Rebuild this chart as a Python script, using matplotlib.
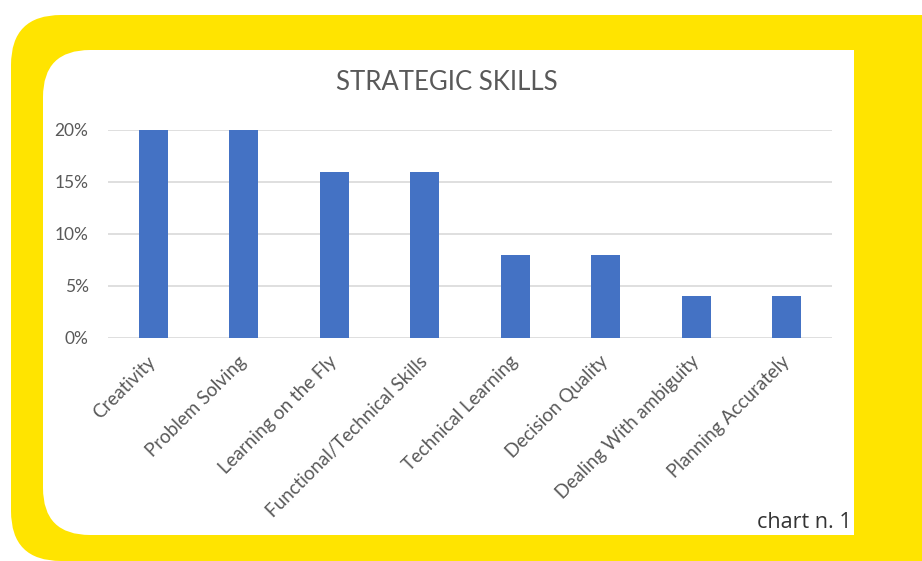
import numpy as np
import matplotlib
matplotlib.use("Agg")
from matplotlib import pyplot as plt
from matplotlib.patches import FancyBboxPatch, Rectangle

skills = ["Creativity", "Problem Solving", "Learning on the Fly",
          "Functional/Technical Skills", "Technical Learning",
          "Decision Quality", "Dealing With ambiguity", "Planning Accurately"]
shares = [20, 20, 16, 16, 8, 8, 4, 4]
y_ticks = [0, 5, 10, 15, 20]
y_labels = ["0%", "5%", "10%", "15%", "20%"]

W, H = 922, 561
YELLOW = "#FFE400"
GREY = "#595959"

fig = plt.figure(figsize=(W / 100, H / 100), dpi=100)
fig.patch.set_facecolor("white")
tr = fig.dpi_scale_trans


def box(x0, y0, x1, y1):
    # pixel coords from top-left -> inches from bottom-left
    return (x0 / 100, (H - y1) / 100), (x1 - x0) / 100, (y1 - y0) / 100


# yellow frame, rounded on the left only (right side runs off the figure)
xy, w, h = box(11, 15, 1000, 561)
fig.patches.append(FancyBboxPatch(xy, w, h, boxstyle="round,pad=0,rounding_size=0.5",
                                  transform=tr, facecolor=YELLOW, edgecolor="none", zorder=0))
xy, w, h = box(43, 50, 960, 535)
fig.patches.append(FancyBboxPatch(xy, w, h, boxstyle="round,pad=0,rounding_size=0.47",
                                  transform=tr, facecolor="white", edgecolor="none", zorder=1))
xy, w, h = box(854, 15, 922, 561)
fig.patches.append(Rectangle(xy, w, h, transform=tr, facecolor=YELLOW,
                             edgecolor="none", zorder=2))

# plot area
left, right, top, bottom = 108, 832, 130, 338
ax = fig.add_axes([left / W, (H - bottom) / H, (right - left) / W, (bottom - top) / H])
ax.set_facecolor("none")
ax.set_zorder(3)

x = np.arange(len(skills))
ax.bar(x, shares, width=0.32, color="#4472C4", zorder=3)
ax.set_xlim(-0.5, len(skills) - 0.5)
ax.set_ylim(0, 20)
ax.set_yticks(y_ticks)
ax.set_yticklabels(y_labels, fontsize=12.5, color=GREY, family="Lato")
ax.set_xticks(x)
ax.set_xticklabels(skills, rotation=45, ha="right", va="center",
                   rotation_mode="anchor", fontsize=13.5, color=GREY, family="Lato")
ax.tick_params(axis="y", length=0, pad=14)
ax.tick_params(axis="x", length=0, pad=15)
for s in ax.spines.values():
    s.set_visible(False)
ax.grid(axis="y", color="#d9d9d9", linewidth=1.2, zorder=0)
ax.set_axisbelow(True)

fig.text(447 / W, 1 - 83 / H, "STRATEGIC SKILLS", ha="center", va="center",
         fontsize=18.5, color=GREY, family="Lato", zorder=5)
fig.text(852 / W, 1 - 523 / H, "chart n. 1", ha="right", va="center",
         fontsize=15.5, color="#333333", family="Open Sans", zorder=5)

fig.savefig("out.png", dpi=100)
